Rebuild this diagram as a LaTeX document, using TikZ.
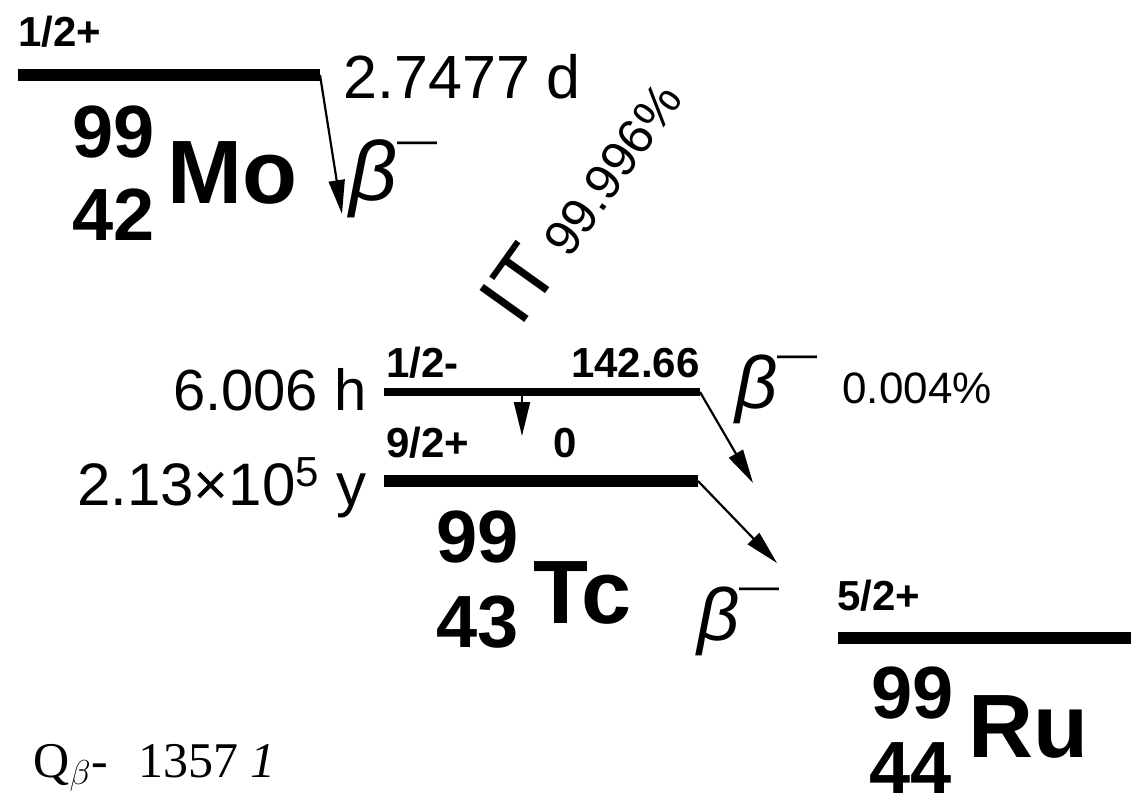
\documentclass[tikz,border=0pt]{standalone}
\usepackage{fontspec}
\setmainfont{Liberation Sans}
\newfontfamily\qfont{Liberation Serif}
\usepackage{tikz}
\usetikzlibrary{arrows.meta,positioning,calc}
\newcommand\betaminus{{\itshape β}\raisebox{0.55em}{\fontsize{20}{20}\selectfont —}}

\begin{document}
\begin{tikzpicture}[x=0.5pt,y=-0.5pt,>={Triangle[length=17pt,width=8pt]},
  lvl/.style={line width=6pt},
  decay/.style={->,line width=1.1pt},
  spin/.style={font=\fontsize{21}{23}\selectfont\bfseries,inner sep=0pt},
  life/.style={font=\fontsize{29}{31}\selectfont,inner sep=0pt},
  mass/.style={font=\fontsize{37}{39}\selectfont\bfseries,inner sep=0pt},
  elem/.style={font=\fontsize{45}{47}\selectfont\bfseries,inner sep=0pt},
  bta/.style={font=\fontsize{37}{39}\selectfont,inner sep=0pt},
  every node/.style={anchor=base west}]
\useasboundingbox (0,0) rectangle (1131,804);
% --- parent 99Mo ---
\coordinate (MoL) at (18,75);
\coordinate (MoR) at (320,75);
\coordinate (MoE) at (342,214);
\draw[lvl] (MoL) -- (MoR);
\draw[decay] (MoR) -- (MoE);
\node[spin] (MoJ) at (18,46) {1/2+};
\node[life,font=\fontsize{30.5}{32}\selectfont] (MoT) at (343,98) {2.7477 d};
\node[mass] (MoA) at (72,157) {99};
\node[mass] (MoZ) at (72,240) {42};
\node[elem] (MoX) at (167,203) {Mo};
\node[bta,font=\fontsize{42}{44}\selectfont] (MoB) at (349,200) {\betaminus};
% --- isomeric transition ---
\node[inner sep=0pt,rotate=54.5] (IT) at (520,329)
  {\fontsize{40}{42}\selectfont IT\,\fontsize{25}{27}\selectfont 99.996\%};
% --- 99mTc and 99Tc ---
\coordinate (TmL) at (384,392);
\coordinate (TmR) at (700,392);
\coordinate (TgL) at (384,481);
\coordinate (TgR) at (698,481);
\coordinate (ITs) at (522,392);
\coordinate (ITe) at (522,436);
\coordinate (TmE) at (753,483);
\coordinate (TgE) at (777,563);
\draw[lvl,line width=4pt] (TmL) -- (TmR);
\draw[lvl] (TgL) -- (TgR);
\draw[decay] (ITs) -- (ITe);
\draw[decay] (TmR) -- (TmE);
\draw[decay] (TgR) -- (TgE);
\node[life,anchor=base east] (TmT) at (367,410) {6.006 h};
\node[spin] (TmJ) at (386,377) {1/2-};
\node[spin,anchor=base east] (TmEn) at (700,377) {142.66};
\node[spin] (TgJ) at (386,457) {9/2+};
\node[spin] (TgEn) at (553,457) {0};
\node[life,font=\fontsize{30}{32}\selectfont,anchor=base east] (TgT) at (367,505)
  {2.13×10\textsuperscript{5} y};
\node[bta] (TmB) at (735,408) {\betaminus};
\node[font=\fontsize{22}{24}\selectfont,inner sep=0pt] (TmP) at (842,403) {0.004\%};
\node[mass] (TcA) at (436,562) {99};
\node[mass] (TcZ) at (436,647) {43};
\node[elem] (TcX) at (533,623) {Tc};
\node[bta] (TgB) at (697,640) {\betaminus};
% --- daughter 99Ru ---
\coordinate (RuL) at (838,638);
\coordinate (RuR) at (1131,638);
\draw[lvl] (RuL) -- (RuR);
\node[spin] (RuJ) at (837,610) {5/2+};
\node[mass] (RuA) at (871,718) {99};
\node[mass] (RuZ) at (869,793) {44};
\node[elem] (RuX) at (968,757) {Ru};
% --- Q value ---
\node[font=\fontsize{25}{27}\selectfont\qfont,inner sep=0pt] (Q) at (33,777)
  {Q\textsubscript{$\beta$}-\hspace{0.6em}1357 \textit{1}};
\end{tikzpicture}
\end{document}
